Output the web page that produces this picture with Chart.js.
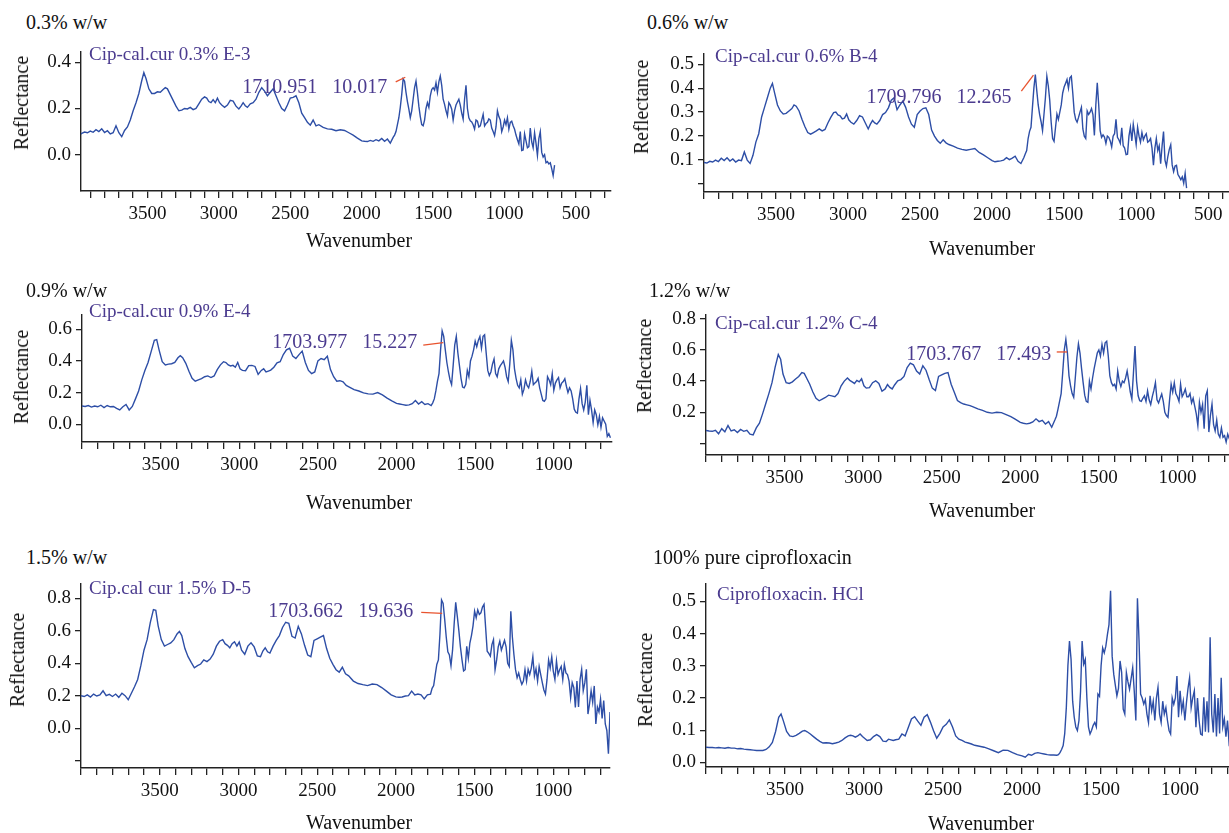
<!DOCTYPE html>
<html lang="en">
<head>
<meta charset="UTF-8">
<title>Reflectance spectra</title>
<style>
  html, body { margin: 0; padding: 0; background: #fff; overflow: hidden; }
  body { width: 1229px; height: 833px; position: relative; font-family: "Liberation Serif", "Times New Roman", serif; }
  canvas { position: absolute; }
  .txt { position: absolute; white-space: pre; line-height: 1; color: #111; }
  .title { font-size: 20px; transform: translate(0, -50%); }
  .sample { font-size: 19px; color: #4b3b8f; transform: translate(0, -50%); }
  .xtitle { font-size: 20px; transform: translate(-50%, -50%); }
  .ytitle { font-size: 20px; transform: translate(-50%, -50%) rotate(-90deg); }
</style>
</head>
<body>
<script src="https://cdn.jsdelivr.net/npm/chart.js"></script>
<script>
// wavenumber grid shared by all six spectra (cm-1)
const wavenumbers = [
  4000,3980,3960,3940,3920,3900,3880,3860,3840,3820,
  3800,3780,3760,3740,3720,3700,3680,3660,
  3640,3620,3600,3580,3560,3540,3525,3510,3490,3470,
  3450,3430,3410,3390,3375,3360,3340,3320,3300,3280,
  3260,3240,3220,3200,3180,3160,3140,3120,3100,3085,
  3070,3055,3040,3025,3010,2995,2980,2960,2940,2920,
  2900,2880,2860,2845,2830,2815,2800,2780,2760,2740,
  2720,2700,2680,2660,2640,2620,2600,2580,2560,2540,
  2520,2500,2480,2460,2440,2420,2400,2380,2360,2340,
  2320,2300,2270,2240,2210,2180,2150,2120,2090,2060,
  2030,2000,1980,1960,1940,1920,1900,1880,1860,1840,
  1820,1800,1780,
  1770,1760,1750,1740,1730,1720,1710,1700,1690,1680,
  1670,1660,1650,1640,1630,1620,1610,1600,1590,1580,
  1570,1560,1550,1540,1530,1520,1510,1500,1490,1480,
  1470,1460,1450,1440,1430,1420,1410,1400,1390,1380,
  1370,1360,1350,1340,1330,1320,1310,1300,1290,1280,
  1270,1260,1250,1240,1230,1220,1210,1200,1190,1180,
  1170,1160,1150,1140,1130,1120,1110,1100,1090,1080,
  1070,1060,1050,1040,1030,1020,1010,1000,990,980,
  970,960,950,940,930,920,910,900,890,880,
  870,860,850,840,830,820,810,800,790,780,
  770,760,750,740,730,720,710,700,690,680,
  670,660,650,640
];

// 0.3% w/w
const refl03 = [
  0.090,0.085,0.092,0.098,0.095,0.102,0.097,0.108,0.100,0.112,
  0.096,0.104,0.090,0.095,0.125,0.095,0.078,0.105,
  0.120,0.150,0.190,0.225,0.265,0.320,0.355,0.330,0.285,0.265,
  0.265,0.272,0.270,0.282,0.290,0.285,0.260,0.235,0.210,0.190,
  0.193,0.200,0.198,0.205,0.195,0.200,0.220,0.240,0.250,0.245,
  0.230,0.225,0.238,0.225,0.245,0.225,0.215,0.205,0.215,0.235,
  0.232,0.210,0.198,0.210,0.225,0.212,0.205,0.220,0.225,0.240,
  0.270,0.290,0.275,0.255,0.270,0.285,0.255,0.225,0.200,0.190,
  0.215,0.245,0.248,0.255,0.225,0.180,0.160,0.140,0.128,0.150,
  0.125,0.130,0.118,0.112,0.110,0.104,0.108,0.105,0.095,0.085,
  0.072,0.060,0.058,0.057,0.062,0.058,0.065,0.060,0.070,0.058,
  0.068,0.050,0.075,
  0.085,0.100,0.130,0.160,0.205,0.260,0.328,0.318,0.270,0.230,
  0.197,0.160,0.190,0.240,0.290,0.318,0.268,0.210,0.165,0.130,
  0.125,0.150,0.200,0.225,0.205,0.255,0.282,0.290,0.280,0.311,
  0.270,0.315,0.340,0.300,0.240,0.218,0.190,0.168,0.225,0.215,
  0.197,0.150,0.190,0.215,0.228,0.240,0.215,0.180,0.154,0.240,
  0.300,0.200,0.160,0.147,0.142,0.130,0.111,0.150,0.145,0.120,
  0.125,0.150,0.175,0.125,0.135,0.140,0.155,0.150,0.115,0.100,
  0.083,0.120,0.190,0.165,0.150,0.100,0.120,0.150,0.130,0.160,
  0.110,0.140,0.145,0.125,0.110,0.085,0.065,0.047,0.100,0.018,
  0.020,0.090,0.060,0.030,0.035,0.115,0.055,0.030,0.095,0.050,
  -0.003,0.070,0.100,0.010,-0.010,0.000,-0.035,-0.030,-0.040,-0.035,
  -0.060,-0.090,-0.045,null
];

// 0.6% w/w
const refl06 = [
  0.090,0.088,0.095,0.092,0.100,0.094,0.108,0.098,0.110,0.096,
  0.105,0.092,0.100,0.098,0.134,0.100,0.086,0.120,
  0.175,0.210,0.280,0.320,0.360,0.400,0.420,0.380,0.330,0.305,
  0.292,0.295,0.305,0.315,0.330,0.325,0.305,0.270,0.240,0.215,
  0.208,0.215,0.222,0.230,0.222,0.228,0.255,0.278,0.298,0.300,
  0.288,0.285,0.272,0.275,0.292,0.268,0.258,0.250,0.265,0.285,
  0.280,0.255,0.230,0.250,0.265,0.255,0.250,0.265,0.290,0.298,
  0.318,0.350,0.360,0.310,0.330,0.346,0.320,0.280,0.250,0.237,
  0.290,0.305,0.315,0.318,0.290,0.225,0.200,0.182,0.170,0.185,
  0.172,0.165,0.158,0.150,0.145,0.141,0.145,0.148,0.132,0.122,
  0.110,0.098,0.093,0.095,0.097,0.100,0.110,0.102,0.108,0.116,
  0.095,0.086,0.110,
  0.125,0.140,0.190,0.220,0.237,0.320,0.400,0.457,0.390,0.330,
  0.290,0.260,0.223,0.290,0.360,0.450,0.410,0.350,0.258,0.190,
  0.178,0.235,0.292,0.270,0.300,0.330,0.380,0.405,0.420,0.436,
  0.400,0.443,0.450,0.380,0.300,0.270,0.258,0.278,0.300,0.320,
  0.230,0.200,0.190,0.305,0.290,0.300,0.315,0.290,0.203,0.330,
  0.422,0.330,0.223,0.195,0.205,0.196,0.170,0.200,0.195,0.180,
  0.155,0.200,0.210,0.270,0.195,0.185,0.170,0.235,0.160,0.150,
  0.123,0.125,0.200,0.237,0.180,0.250,0.210,0.165,0.237,0.200,
  0.175,0.215,0.185,0.200,0.210,0.175,0.180,0.190,0.150,0.079,
  0.150,0.190,0.140,0.160,0.085,0.160,0.219,0.100,0.075,0.115,
  0.145,0.164,0.080,0.052,0.075,0.078,0.040,0.030,0.018,0.030,
  0.004,0.045,-0.017,null
];

// 0.9% w/w
const refl09 = [
  0.115,0.112,0.118,0.108,0.115,0.110,0.120,0.105,0.118,0.110,
  0.112,0.100,0.090,0.110,0.125,0.090,0.112,0.160,
  0.210,0.280,0.340,0.390,0.460,0.530,0.535,0.470,0.395,0.375,
  0.380,0.382,0.390,0.420,0.433,0.420,0.385,0.335,0.290,0.272,
  0.280,0.288,0.300,0.305,0.295,0.305,0.345,0.375,0.395,0.390,
  0.375,0.368,0.372,0.360,0.390,0.350,0.340,0.338,0.370,0.372,
  0.365,0.315,0.340,0.350,0.330,0.336,0.342,0.360,0.388,0.395,
  0.440,0.470,0.480,0.430,0.415,0.440,0.462,0.390,0.340,0.320,
  0.330,0.400,0.415,0.408,0.430,0.345,0.300,0.272,0.275,0.268,
  0.245,0.235,0.218,0.210,0.198,0.192,0.190,0.200,0.185,0.165,
  0.148,0.132,0.128,0.124,0.120,0.122,0.130,0.150,0.128,0.142,
  0.125,0.130,0.118,
  0.135,0.160,0.210,0.270,0.320,0.470,0.590,0.555,0.470,0.390,
  0.330,0.280,0.250,0.370,0.500,0.555,0.450,0.370,0.290,0.235,
  0.230,0.250,0.340,0.300,0.400,0.430,0.470,0.525,0.490,0.530,
  0.555,0.480,0.555,0.565,0.450,0.340,0.308,0.330,0.380,0.412,
  0.320,0.300,0.350,0.370,0.385,0.400,0.360,0.300,0.270,0.380,
  0.530,0.470,0.350,0.290,0.246,0.230,0.280,0.190,0.220,0.280,
  0.245,0.230,0.270,0.335,0.250,0.260,0.270,0.290,0.230,0.190,
  0.150,0.145,0.160,0.300,0.280,0.250,0.319,0.215,0.260,0.280,
  0.295,0.230,0.260,0.270,0.288,0.240,0.200,0.230,0.210,0.160,
  0.095,0.075,0.070,0.160,0.225,0.130,0.090,0.140,0.246,0.060,
  0.150,0.090,0.010,0.090,0.060,-0.004,0.050,-0.020,0.040,0.020,
  0.000,-0.077,-0.060,-0.085
];

// 1.2% w/w
const refl12 = [
  0.083,0.080,0.078,0.085,0.062,0.095,0.075,0.115,0.080,0.088,
  0.070,0.090,0.078,0.085,0.060,0.055,0.100,0.130,
  0.190,0.255,0.320,0.390,0.490,0.570,0.540,0.445,0.390,0.385,
  0.395,0.413,0.430,0.455,0.450,0.420,0.380,0.330,0.290,0.274,
  0.285,0.295,0.310,0.305,0.300,0.320,0.370,0.400,0.420,0.405,
  0.395,0.385,0.405,0.395,0.415,0.370,0.355,0.358,0.390,0.402,
  0.385,0.335,0.350,0.378,0.360,0.350,0.375,0.402,0.410,0.430,
  0.487,0.515,0.505,0.465,0.445,0.498,0.470,0.410,0.355,0.340,
  0.430,0.440,0.450,0.455,0.380,0.328,0.275,0.262,0.253,0.248,
  0.243,0.235,0.222,0.212,0.200,0.195,0.200,0.198,0.185,0.172,
  0.155,0.135,0.130,0.126,0.130,0.138,0.158,0.140,0.148,0.125,
  0.140,0.104,0.150,
  0.175,0.220,0.270,0.320,0.455,0.600,0.668,0.580,0.434,0.370,
  0.320,0.296,0.420,0.550,0.640,0.580,0.480,0.390,0.310,0.270,
  0.264,0.400,0.350,0.420,0.480,0.530,0.580,0.600,0.560,0.635,
  0.580,0.646,0.656,0.560,0.434,0.390,0.370,0.380,0.349,0.465,
  0.400,0.365,0.400,0.390,0.420,0.465,0.400,0.330,0.285,0.450,
  0.625,0.400,0.306,0.274,0.270,0.290,0.306,0.270,0.338,0.280,
  0.250,0.300,0.340,0.390,0.280,0.260,0.290,0.317,0.270,0.200,
  0.179,0.168,0.280,0.380,0.330,0.390,0.320,0.300,0.270,0.380,
  0.300,0.320,0.349,0.300,0.300,0.320,0.260,0.290,0.240,0.190,
  0.115,0.264,0.200,0.250,0.094,0.306,0.338,0.073,0.180,0.253,
  0.120,0.080,0.150,0.060,0.040,0.100,0.040,0.050,0.009,0.060,
  0.030,0.010,0.040,0.020
];

// 1.5% w/w
const refl15 = [
  0.200,0.195,0.205,0.192,0.210,0.198,0.205,0.230,0.200,0.208,
  0.195,0.210,0.190,0.215,0.200,0.175,0.215,0.255,
  0.300,0.385,0.480,0.545,0.650,0.730,0.725,0.630,0.545,0.505,
  0.515,0.525,0.545,0.580,0.595,0.570,0.490,0.440,0.405,0.372,
  0.385,0.395,0.420,0.410,0.425,0.455,0.505,0.535,0.545,0.520,
  0.510,0.495,0.520,0.532,0.505,0.530,0.480,0.455,0.505,0.525,
  0.500,0.445,0.440,0.475,0.495,0.470,0.462,0.505,0.540,0.570,
  0.620,0.652,0.645,0.565,0.555,0.627,0.580,0.510,0.450,0.440,
  0.540,0.550,0.560,0.570,0.490,0.430,0.393,0.360,0.345,0.375,
  0.335,0.322,0.290,0.275,0.268,0.262,0.272,0.268,0.250,0.228,
  0.205,0.193,0.190,0.192,0.198,0.200,0.228,0.205,0.210,0.205,
  0.180,0.205,0.210,
  0.245,0.262,0.330,0.392,0.420,0.580,0.789,0.768,0.670,0.560,
  0.470,0.450,0.385,0.480,0.640,0.774,0.690,0.600,0.500,0.420,
  0.352,0.360,0.504,0.430,0.524,0.570,0.630,0.720,0.680,0.728,
  0.700,0.710,0.745,0.762,0.620,0.474,0.460,0.443,0.514,0.545,
  0.360,0.420,0.500,0.535,0.480,0.510,0.540,0.500,0.400,0.380,
  0.720,0.560,0.450,0.360,0.311,0.340,0.300,0.270,0.290,0.360,
  0.290,0.362,0.330,0.370,0.440,0.320,0.365,0.290,0.380,0.330,
  0.280,0.235,0.210,0.300,0.420,0.370,0.440,0.350,0.300,0.413,
  0.330,0.360,0.380,0.300,0.392,0.340,0.330,0.290,0.189,0.280,
  0.250,0.128,0.290,0.130,0.300,0.362,0.230,0.280,0.362,0.087,
  0.150,0.230,0.160,0.260,0.026,0.130,0.100,0.179,0.060,0.170,
  0.026,-0.014,-0.157,0.100
];

// 100% pure ciprofloxacin HCl
const reflPure = [
  0.047,0.046,0.046,0.045,0.046,0.045,0.044,0.046,0.044,0.044,
  0.042,0.043,0.041,0.040,0.039,0.038,0.037,0.037,
  0.037,0.040,0.048,0.062,0.095,0.140,0.150,0.128,0.096,0.082,
  0.080,0.084,0.090,0.097,0.099,0.095,0.088,0.080,0.072,0.065,
  0.060,0.061,0.060,0.058,0.060,0.063,0.068,0.076,0.082,0.084,
  0.082,0.078,0.082,0.088,0.080,0.074,0.068,0.070,0.080,0.086,
  0.080,0.066,0.065,0.072,0.070,0.068,0.070,0.072,0.088,0.082,
  0.108,0.135,0.142,0.128,0.115,0.140,0.148,0.125,0.098,0.075,
  0.090,0.110,0.118,0.132,0.110,0.082,0.072,0.068,0.063,0.060,
  0.057,0.053,0.050,0.047,0.042,0.036,0.030,0.038,0.037,0.030,
  0.024,0.020,0.016,0.025,0.022,0.028,0.030,0.028,0.026,0.024,
  0.023,0.023,0.022,
  0.024,0.030,0.040,0.052,0.090,0.170,0.300,0.377,0.320,0.190,
  0.140,0.110,0.099,0.130,0.220,0.377,0.305,0.320,0.200,0.110,
  0.088,0.100,0.115,0.124,0.110,0.212,0.205,0.300,0.356,0.340,
  0.361,0.397,0.428,0.533,0.330,0.274,0.240,0.207,0.230,0.315,
  0.280,0.165,0.150,0.279,0.250,0.227,0.260,0.294,0.220,0.130,
  0.510,0.380,0.212,0.200,0.181,0.195,0.150,0.124,0.207,0.160,
  0.190,0.130,0.200,0.233,0.150,0.124,0.190,0.150,0.170,0.130,
  0.099,0.088,0.200,0.180,0.200,0.268,0.140,0.222,0.160,0.190,
  0.130,0.185,0.230,0.263,0.170,0.200,0.222,0.109,0.200,0.130,
  0.088,0.085,0.202,0.095,0.190,0.093,0.389,0.150,0.093,0.212,
  0.080,0.200,0.090,0.263,0.110,0.135,0.080,0.130,0.058,0.070,
  0.050,0.065,0.045,0.060
];

const panelTitles = ['0.3% w/w', '0.6% w/w', '0.9% w/w', '1.2% w/w', '1.5% w/w', '100% pure ciprofloxacin'];
const sampleLabels = ['Cip-cal.cur 0.3% E-3', 'Cip-cal.cur 0.6% B-4', 'Cip-cal.cur 0.9% E-4',
                      'Cip-cal.cur 1.2% C-4', 'Cip.cal cur 1.5% D-5', 'Ciprofloxacin. HCl'];
const peakLabels = ['1710.951   10.017', '1709.796   12.265', '1703.977   15.227',
                    '1703.767   17.493', '1703.662   19.636', null];

// y tick values and their labels ('' = tick without label)
const yTicks03 = [0.0, 0.2, 0.4];
const yLabels03 = ['0.0', '0.2', '0.4'];
const yTicks06 = [0.0, 0.1, 0.2, 0.3, 0.4, 0.5];
const yLabels06 = ['', '0.1', '0.2', '0.3', '0.4', '0.5'];
const yTicks09 = [0.0, 0.2, 0.4, 0.6];
const yLabels09 = ['0.0', '0.2', '0.4', '0.6'];
const yTicks12 = [0.0, 0.2, 0.4, 0.6, 0.8];
const yLabels12 = ['', '0.2', '0.4', '0.6', '0.8'];
const yTicks15 = [-0.2, 0.0, 0.2, 0.4, 0.6, 0.8];
const yLabels15 = ['', '0.0', '0.2', '0.4', '0.6', '0.8'];
const yTicksPure = [0.0, 0.1, 0.2, 0.3, 0.4, 0.5];
const yLabelsPure = ['0.0', '0.1', '0.2', '0.3', '0.4', '0.5'];
const xTickLabels = [3500, 3000, 2500, 2000, 1500, 1000, 500];

const lineColor = '#2d4ea6';
const purple = '#4b3b8f';
const serif = '"Liberation Serif", "Times New Roman", serif';

// plot area in page pixels, axis ranges, text anchors
const panels = [
  { values: refl03, yTicks: yTicks03, yLabels: yLabels03,
    area: {left: 81, top: 50, width: 530, height: 141}, x: [255, 3965], y: [-0.157, 0.447],
    titleAt: [26, 22], sampleAt: [89, 53], yTitleAt: [21, 103], xTitleAt: [359, 240],
    note: {at: [1822, 0.288], from: [1762, 0.315], to: [1695, 0.335]} },
  { values: refl06, yTicks: yTicks06, yLabels: yLabels06,
    area: {left: 704, top: 52, width: 533, height: 140}, x: [300, 4000], y: [-0.033, 0.545],
    titleAt: [647, 22], sampleAt: [715, 55], yTitleAt: [641, 107], xTitleAt: [982, 248],
    note: {at: [1866, 0.36], from: [1797, 0.388], to: [1713, 0.454]} },
  { values: refl09, yTicks: yTicks09, yLabels: yLabels09,
    area: {left: 82, top: 313, width: 530, height: 129}, x: [630, 4000], y: [-0.1125, 0.694],
    titleAt: [26, 290], sampleAt: [89, 310], yTitleAt: [21, 377], xTitleAt: [359, 502],
    note: {at: [1868, 0.516], from: [1830, 0.50], to: [1703, 0.516]} },
  { values: refl12, yTicks: yTicks12, yLabels: yLabels12,
    area: {left: 706, top: 313, width: 528, height: 142}, x: [640, 4000], y: [-0.074, 0.828],
    titleAt: [649, 290], sampleAt: [715, 322], yTitleAt: [644, 366], xTitleAt: [982, 510],
    note: {at: [1803, 0.569], from: [1768, 0.587], to: [1702, 0.587]} },
  { values: refl15, yTicks: yTicks15, yLabels: yLabels15,
    area: {left: 81, top: 582, width: 529, height: 186}, x: [640, 4000], y: [-0.245, 0.891],
    titleAt: [26, 557], sampleAt: [89, 587], yTitleAt: [17, 660], xTitleAt: [359, 822],
    note: {at: [1890, 0.717], from: [1839, 0.713], to: [1706, 0.707]} },
  { values: reflPure, yTicks: yTicksPure, yLabels: yLabelsPure,
    area: {left: 706, top: 582, width: 531, height: 185}, x: [640, 4000], y: [-0.0145, 0.556],
    titleAt: [653, 557], sampleAt: [717, 593], yTitleAt: [645, 680], xTitleAt: [981, 823],
    note: null }
];

const Y_AXIS_W = 81, X_AXIS_H = 60, PAD_TOP = 14, PAD_RIGHT = 6;

function addText(cls, text, pos) {
  const d = document.createElement('div');
  d.className = 'txt ' + cls;
  d.textContent = text;
  d.style.left = pos[0] + 'px';
  d.style.top = pos[1] + 'px';
  document.body.appendChild(d);
}

panels.forEach((p, i) => {
  const a = p.area;
  const canvas = document.createElement('canvas');
  canvas.width = Y_AXIS_W + a.width + PAD_RIGHT;
  canvas.height = PAD_TOP + a.height + X_AXIS_H;
  canvas.style.left = (a.left - Y_AXIS_W) + 'px';
  canvas.style.top = (a.top - PAD_TOP) + 'px';
  document.body.appendChild(canvas);

  const peakText = peakLabels[i];
  const notePlugin = {
    id: 'peakNote' + i,
    afterDatasetsDraw(chart) {
      if (!p.note || !peakText) return;
      const {ctx, scales: {x, y}} = chart;
      ctx.save();
      ctx.strokeStyle = '#e8532e';
      ctx.lineWidth = 1.3;
      ctx.beginPath();
      ctx.moveTo(x.getPixelForValue(p.note.from[0]), y.getPixelForValue(p.note.from[1]));
      ctx.lineTo(x.getPixelForValue(p.note.to[0]), y.getPixelForValue(p.note.to[1]));
      ctx.stroke();
      ctx.font = '20px ' + serif;
      ctx.fillStyle = purple;
      ctx.textAlign = 'right';
      ctx.textBaseline = 'middle';
      ctx.fillText(peakText, x.getPixelForValue(p.note.at[0]), y.getPixelForValue(p.note.at[1]));
      ctx.restore();
    }
  };

  new Chart(canvas, {
    type: 'line',
    data: {
      datasets: [{
        data: wavenumbers.map((w, k) => ({x: w, y: p.values[k]})),
        borderColor: lineColor,
        borderWidth: 1.4,
        pointRadius: 0,
        fill: false,
        tension: 0,
        spanGaps: false
      }]
    },
    options: {
      responsive: false,
      animation: false,
      events: [],
      layout: {padding: {left: 0, top: PAD_TOP, right: PAD_RIGHT, bottom: 0}},
      plugins: {legend: {display: false}, tooltip: {enabled: false}},
      scales: {
        x: {
          type: 'linear',
          reverse: true,
          min: p.x[0],
          max: p.x[1],
          afterFit(s) { s.height = X_AXIS_H; },
          afterBuildTicks(s) {
            const t = [];
            for (let v = Math.ceil(p.x[0] / 100) * 100; v <= p.x[1]; v += 100) t.push({value: v});
            s.ticks = t;
          },
          ticks: {
            autoSkip: false, maxRotation: 0, padding: 5, color: '#111',
            font: {family: serif, size: 19},
            callback: v => (xTickLabels.includes(Math.round(v)) ? String(Math.round(v)) : '')
          },
          grid: {drawOnChartArea: false, drawTicks: true, tickLength: 7, color: '#222', lineWidth: 1.3},
          border: {display: true, color: '#222', width: 1.4}
        },
        y: {
          type: 'linear',
          min: p.y[0],
          max: p.y[1],
          afterFit(s) { s.width = Y_AXIS_W; },
          afterBuildTicks(s) { s.ticks = p.yTicks.map(v => ({value: v})); },
          ticks: {
            autoSkip: false, padding: 4, color: '#111',
            font: {family: serif, size: 19},
            callback: (v, k) => p.yLabels[k]
          },
          grid: {drawOnChartArea: false, drawTicks: true, tickLength: 6, color: '#222', lineWidth: 1.3},
          border: {display: true, color: '#222', width: 1.4}
        }
      }
    },
    plugins: [notePlugin]
  });

  addText('title', panelTitles[i], p.titleAt);
  addText('sample', sampleLabels[i], p.sampleAt);
  addText('ytitle', 'Reflectance', p.yTitleAt);
  addText('xtitle', 'Wavenumber', p.xTitleAt);
});
</script>
</body>
</html>
